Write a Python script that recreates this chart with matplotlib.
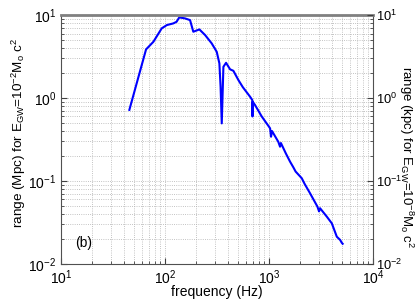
import matplotlib
matplotlib.use('Agg')
from matplotlib import pyplot as plt
from matplotlib.ticker import LogLocator, NullFormatter

plt.rcParams['font.family'] = ['Liberation Sans', 'DejaVu Sans']
plt.rcParams['mathtext.default'] = 'regular'

# frequency (Hz) and range (Mpc)
freq = [45.4, 65.7, 77.3, 92.9, 104, 120, 129, 137, 156, 174, 187, 214, 243,
        281, 314, 333, 342, 351, 364, 386, 422, 454, 507, 560, 656, 690, 693,
        697, 733, 850, 1000, 1023, 1045, 1068, 1227, 1275, 1300, 1450, 1592, 1713,
        1800, 2062, 2200, 2478, 2912, 3024, 3090, 3589, 4010, 4480, 4820, 5000, 5100]
rng = [0.72, 3.86, 4.77, 6.92, 7.58, 7.94, 8.3, 9.38, 9.12, 8.7, 6.3, 6.72, 5.74,
       4.56, 3.61, 2.62, 1.37, 0.495, 2.38, 2.66, 2.22, 2.13, 1.65, 1.35, 1.04, 0.946, 0.6,
       0.9, 0.824, 0.6, 0.45, 0.431, 0.342, 0.40, 0.297, 0.259, 0.287, 0.215, 0.171, 0.146,
       0.13, 0.108, 0.092, 0.0711, 0.0493, 0.043, 0.047, 0.0372, 0.0309, 0.0213, 0.0195, 0.018, 0.0175]

xlim = (10, 1e4)
ylim = (1e-2, 10)
panel_label = '(b)'

fig = plt.figure(figsize=(4.15, 3.02), dpi=100)
ax = fig.add_axes([0.147, 0.126, 0.752, 0.824])
ax.plot(freq, rng, color='#0000ff', linewidth=1.5)
ax.set_xscale('log')
ax.set_yscale('log')
ax.set_xlim(*xlim)
ax.set_ylim(*ylim)
ax.grid(True, which='both', linestyle=':', color='#b0b0b0', linewidth=0.6)
ax.tick_params(which='both', direction='in', labelsize=10, color='#404040')
ax.tick_params(which='major', length=4)
ax.tick_params(which='minor', length=2)
ax.xaxis.set_minor_locator(LogLocator(subs=range(2, 10)))
ax.yaxis.set_minor_locator(LogLocator(subs=range(2, 10)))
ax.xaxis.set_minor_formatter(NullFormatter())
ax.yaxis.set_minor_formatter(NullFormatter())
for s in ['left', 'bottom', 'right']:
    ax.spines[s].set_color('#505050')
ax.spines['top'].set_color('#808080')
ax.spines['top'].set_linewidth(2)
ax.text(0.045, 0.085, panel_label, transform=ax.transAxes, fontsize=10, va='center')

ax2 = ax.twinx()
ax2.set_yscale('log')
ax2.set_ylim(*ylim)
ax2.yaxis.set_minor_locator(LogLocator(subs=range(2, 10)))
ax2.yaxis.set_minor_formatter(NullFormatter())
ax2.tick_params(which='both', direction='in', labelsize=9.3, pad=2, color='#404040')
ax2.tick_params(which='major', length=4)
ax2.tick_params(which='minor', length=2)
for s in ax2.spines.values():
    s.set_visible(False)

# axis titles placed directly
fig.text(0.523, 0.033, 'frequency (Hz)', ha='center', va='center', fontsize=10)
fig.text(0.046, 0.56, 'range (Mpc) for E$_{GW}$=10$^{-2}$M$_o$ c$^2$',
         rotation=90, ha='center', va='center', fontsize=9.7)
fig.text(0.979, 0.48, 'range (kpc) for E$_{GW}$=10$^{-8}$M$_o$ c$^2$',
         rotation=270, ha='center', va='center', fontsize=9.5)

fig.savefig('out.png', dpi=100)
